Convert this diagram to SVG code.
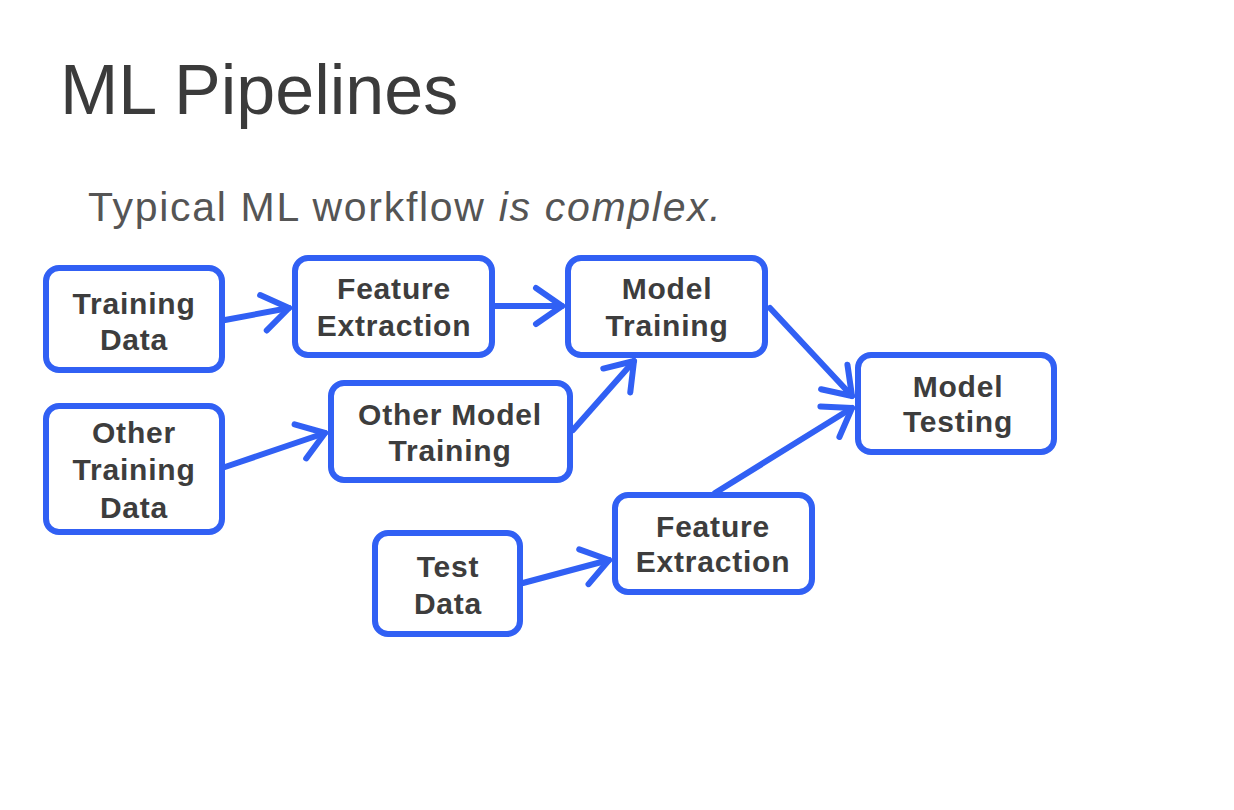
<svg xmlns="http://www.w3.org/2000/svg" width="1234" height="810" viewBox="0 0 1234 810">
<style>
.box{fill:#ffffff;stroke:#3160f4;stroke-width:6}
.lbl{font-family:"Liberation Sans",Arial,sans-serif;font-weight:bold;font-size:30px;fill:#3d3d3d;text-anchor:middle;letter-spacing:0.8px}
.edge{fill:none;stroke:#3160f4;stroke-width:6;stroke-linecap:round}
.title{font-family:"Liberation Sans",Arial,sans-serif;font-size:70px;fill:#3b3b3b}
.sub{font-family:"Liberation Sans",Arial,sans-serif;font-size:41px;fill:#555555;letter-spacing:1.7px}
</style>
<defs>
<marker id="arrow" markerUnits="userSpaceOnUse" viewBox="-32 -24 38 48" refX="0" refY="0" markerWidth="38" markerHeight="48" orient="auto" overflow="visible">
<path d="M-26,-18 L0,0 L-26,18" fill="none" stroke="#3160f4" stroke-width="6" stroke-linecap="round" stroke-linejoin="round"/>
</marker>
</defs>
<rect width="1234" height="810" fill="#ffffff"/>
<text class="title" x="60" y="114">ML Pipelines</text>
<text class="sub" x="88" y="221">Typical ML workflow <tspan font-style="italic">is complex.</tspan></text>
<g id="connectors">
<line class="edge" x1="225" y1="320" x2="289" y2="308" marker-end="url(#arrow)"/>
<line class="edge" x1="495" y1="306" x2="562" y2="306" marker-end="url(#arrow)"/>
<line class="edge" x1="225" y1="467" x2="325" y2="433" marker-end="url(#arrow)"/>
<line class="edge" x1="573" y1="430" x2="634" y2="361" marker-end="url(#arrow)"/>
<line class="edge" x1="770" y1="308" x2="852" y2="396" marker-end="url(#arrow)"/>
<line class="edge" x1="715" y1="493" x2="852" y2="408" marker-end="url(#arrow)"/>
<line class="edge" x1="523" y1="583" x2="609" y2="560" marker-end="url(#arrow)"/>
</g>
<g id="training-data">
<rect class="box" x="46" y="268" width="176" height="102" rx="13"/>
<text class="lbl" x="134" y="314">Training</text>
<text class="lbl" x="134" y="350">Data</text>
</g>
<g id="feature-extraction-1">
<rect class="box" x="295" y="258" width="197" height="97" rx="13"/>
<text class="lbl" x="394" y="299">Feature</text>
<text class="lbl" x="394" y="336">Extraction</text>
</g>
<g id="model-training">
<rect class="box" x="568" y="258" width="197" height="97" rx="13"/>
<text class="lbl" x="667" y="299">Model</text>
<text class="lbl" x="667" y="336">Training</text>
</g>
<g id="other-training-data">
<rect class="box" x="46" y="406" width="176" height="126" rx="13"/>
<text class="lbl" x="134" y="443">Other</text>
<text class="lbl" x="134" y="480">Training</text>
<text class="lbl" x="134" y="518">Data</text>
</g>
<g id="other-model-training">
<rect class="box" x="331" y="383" width="239" height="97" rx="13"/>
<text class="lbl" x="450" y="425">Other Model</text>
<text class="lbl" x="450" y="461">Training</text>
</g>
<g id="model-testing">
<rect class="box" x="858" y="355" width="196" height="97" rx="13"/>
<text class="lbl" x="958" y="397">Model</text>
<text class="lbl" x="958" y="432">Testing</text>
</g>
<g id="test-data">
<rect class="box" x="375" y="533" width="145" height="101" rx="13"/>
<text class="lbl" x="448" y="577">Test</text>
<text class="lbl" x="448" y="614">Data</text>
</g>
<g id="feature-extraction-2">
<rect class="box" x="615" y="495" width="197" height="97" rx="13"/>
<text class="lbl" x="713" y="537">Feature</text>
<text class="lbl" x="713" y="572">Extraction</text>
</g>
</svg>
